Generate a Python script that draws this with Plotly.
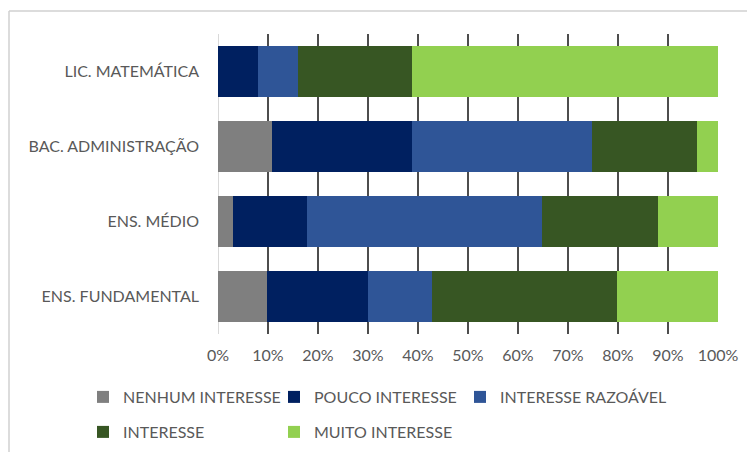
import plotly.graph_objects as go

# Levels of interest by education group (percent of respondents)
categories = ["ENS. FUNDAMENTAL", "ENS. MÉDIO", "BAC. ADMINISTRAÇÃO", "LIC. MATEMÁTICA"]

series_names = ["NENHUM INTERESSE", "POUCO INTERESSE", "INTERESSE RAZOÁVEL",
                "INTERESSE", "MUITO INTERESSE"]

nenhum = [9.8, 3.0, 10.7, 0.0]
pouco = [20.1, 14.7, 28.0, 8.0]
razoavel = [12.8, 47.0, 36.1, 7.9]
interesse = [37.1, 23.2, 20.9, 22.8]
muito = [20.2, 12.1, 4.3, 61.3]

x_tick_values = [0, 10, 20, 30, 40, 50, 60, 70, 80, 90, 100]
x_tick_labels = ["0%", "10%", "20%", "30%", "40%", "50%", "60%", "70%", "80%", "90%", "100%"]

colors = ["#7f7f7f", "#002060", "#2f5597", "#375623", "#92d050"]
# legend blocks: two-column rows plus a separate block for the third column
legend_ids = ["legend", "legend", "legend3", "legend2", "legend2"]

FONT = "Lato, Carlito, Calibri, sans-serif"
TEXT = "#595959"

# plot area in pixels
L, R, T, B = 218, 29, 34, 118
W, H = 747, 452
PW, PH = W - L - R, H - T - B


def px_x(x):
    return (x - L) / PW


def px_y(y):
    return (H - B - y) / PH


fig = go.Figure()
for name, vals, col, lg in zip(series_names, [nenhum, pouco, razoavel, interesse, muito],
                               colors, legend_ids):
    fig.add_trace(go.Bar(
        y=categories, x=vals, name=name, orientation="h",
        marker=dict(color=col, line=dict(width=0)),
        legend=lg,
        hovertemplate="%{y}: %{x:.1f}%<extra>" + name + "</extra>",
    ))

legend_style = dict(
    orientation="h",
    xref="paper", yref="paper",
    xanchor="left", yanchor="middle",
    traceorder="normal",
    font=dict(family=FONT, size=16, color=TEXT),
    itemclick=False, itemdoubleclick=False,
    bgcolor="rgba(0,0,0,0)",
)

fig.update_layout(
    barmode="stack",
    bargap=0.333,
    width=W, height=H,
    margin=dict(l=L, r=R, t=T, b=B, autoexpand=False),
    paper_bgcolor="white", plot_bgcolor="white",
    font=dict(family=FONT, size=16, color=TEXT),
    showlegend=True,
    legend=dict(legend_style, x=px_x(83), y=px_y(397),
                entrywidth=146, entrywidthmode="pixels"),
    legend2=dict(legend_style, x=px_x(83), y=px_y(432),
                 entrywidth=146, entrywidthmode="pixels"),
    legend3=dict(legend_style, x=px_x(460), y=px_y(397)),
    xaxis=dict(
        range=[0, 100],
        tickvals=x_tick_values, ticktext=x_tick_labels,
        showgrid=True, gridcolor="#4d4d4d", gridwidth=1.5,
        zeroline=True, zerolinecolor="#d9d9d9", zerolinewidth=1,
        showline=False, ticks="", ticklabelstandoff=10,
        tickfont=dict(family=FONT, size=16, color=TEXT),
        layer="below traces", fixedrange=True,
    ),
    yaxis=dict(
        categoryorder="array", categoryarray=categories,
        showgrid=False, zeroline=False, showline=False, ticks="",
        ticklabelstandoff=18,
        tickfont=dict(family=FONT, size=16, color=TEXT),
        fixedrange=True,
    ),
    shapes=[
        # chart frame (top and left edges visible)
        dict(type="line", xref="paper", yref="paper",
             x0=px_x(9), x1=px_x(760), y0=px_y(11), y1=px_y(11),
             line=dict(color="#d0d0d0", width=1.5)),
        dict(type="line", xref="paper", yref="paper",
             x0=px_x(9), x1=px_x(9), y0=px_y(11), y1=px_y(470),
             line=dict(color="#d0d0d0", width=1.5)),
    ],
)

fig.write_html("out.html")
